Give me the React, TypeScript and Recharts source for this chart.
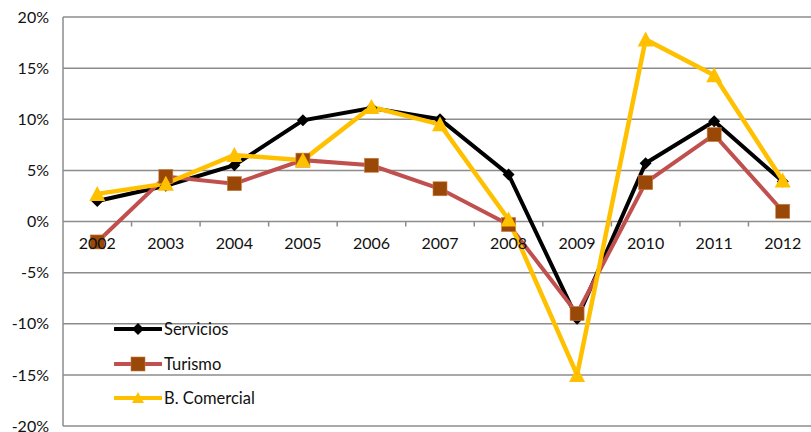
import { LineChart, Line, XAxis, YAxis, CartesianGrid } from "recharts";

const years = ["2002", "2003", "2004", "2005", "2006", "2007", "2008", "2009", "2010", "2011", "2012"];
const servicios = [2.0, 3.5, 5.5, 9.9, 11.1, 10.0, 4.6, -9.5, 5.7, 9.8, 3.9];
const turismo = [-2.0, 4.4, 3.7, 6.0, 5.5, 3.2, -0.3, -9.0, 3.8, 8.5, 1.0];
const comercial = [2.7, 3.7, 6.5, 6.0, 11.2, 9.5, 0.2, -15.0, 17.8, 14.3, 4.0];
const yTicks = [-20, -15, -10, -5, 0, 5, 10, 15, 20];

const data = years.map((year, i) => ({
    year,
    servicios: servicios[i],
    turismo: turismo[i],
    comercial: comercial[i],
}));

const W = 819;
const H = 432;
const TOP = 17;
const BOTTOM = 5;
const X_H = 1;
const LEFT = 63;
const RIGHT = 2;
const PLOT_H = H - TOP - BOTTOM - X_H;
const PLOT_W = W - LEFT - RIGHT;
const ZERO_Y = TOP + (PLOT_H * 20) / 40;
const BAND = PLOT_W / years.length;
const FONT = "Lato, 'Open Sans', sans-serif";

const Diamond = ({ cx, cy }: any) => (
    <polygon points={`${cx},${cy - 6} ${cx + 6},${cy} ${cx},${cy + 6} ${cx - 6},${cy}`} fill="#000" />
);
const Square = ({ cx, cy }: any) => (
    <rect x={cx - 7} y={cy - 7} width={14} height={14} fill="#9A4808" stroke="#C97B3E" strokeWidth={0.6} />
);
const Triangle = ({ cx, cy }: any) => (
    <polygon points={`${cx},${cy - 8} ${cx + 8},${cy + 7} ${cx - 8},${cy + 7}`} fill="#FFC000" />
);

const renderXTick = ({ x, payload }: any) => (
    <g>
        <line x1={x + BAND / 2} x2={x + BAND / 2} y1={ZERO_Y} y2={ZERO_Y + 5} stroke="#8c8c8c" strokeWidth={1.5} />
        <text x={x} y={ZERO_Y + 27} textAnchor="middle" fontSize={16} fontFamily={FONT} fill="#111">
            {payload.value}
        </text>
    </g>
);

const legendItems = [
    { name: "Servicios", color: "#000", mark: "diamond" },
    { name: "Turismo", color: "#C0504D", mark: "square" },
    { name: "B. Comercial", color: "#FFC000", mark: "triangle" },
];

function LegendIcon({ color, mark }: { color: string; mark: string }) {
    return (
        <svg width={48} height={16} style={{ display: "block" }}>
            <line x1={1} x2={47} y1={8} y2={8} stroke={color} strokeWidth={4} strokeLinecap="round" />
            {mark === "diamond" && <Diamond cx={24} cy={8} />}
            {mark === "square" && <Square cx={24} cy={8} />}
            {mark === "triangle" && <polygon points="24,2 30,13 18,13" fill="#FFC000" />}
        </svg>
    );
}

export default function App() {
    return (
        <div style={{ position: "fixed", left: 0, top: 0, width: 811, height: 432, overflow: "hidden", background: "#fff" }}>
            <LineChart width={W} height={H} data={data} margin={{ top: TOP, right: RIGHT, bottom: BOTTOM, left: 8 }}>
                <CartesianGrid vertical={false} stroke="#8c8c8c" strokeWidth={1.5} />
                <XAxis
                    dataKey="year"
                    scale="band"
                    height={X_H}
                    axisLine={false}
                    tickLine={false}
                    tick={renderXTick}
                    interval={0}
                />
                <YAxis
                    width={55}
                    domain={[-20, 20]}
                    ticks={yTicks}
                    interval={0}
                    tickFormatter={(v) => `${v}%`}
                    axisLine={{ stroke: "#8c8c8c", strokeWidth: 1.5 }}
                    tickLine={false}
                    tickMargin={8}
                    tick={{ fontSize: 16, fontFamily: FONT, fill: "#111" }}
                />
                <Line dataKey="servicios" stroke="#000" strokeWidth={4} dot={<Diamond />} activeDot={false} isAnimationActive={false} />
                <Line dataKey="turismo" stroke="#C0504D" strokeWidth={4} dot={<Square />} activeDot={false} isAnimationActive={false} />
                <Line dataKey="comercial" stroke="#FFC000" strokeWidth={4.5} dot={<Triangle />} activeDot={false} isAnimationActive={false} />
            </LineChart>
            <div style={{ position: "absolute", left: 114, top: 312, fontFamily: FONT, fontSize: 16.5, color: "#111" }}>
                {legendItems.map((it) => (
                    <div key={it.name} style={{ display: "flex", alignItems: "center", height: 34.5 }}>
                        <LegendIcon color={it.color} mark={it.mark} />
                        <span style={{ marginLeft: 2 }}>{it.name}</span>
                    </div>
                ))}
            </div>
        </div>
    );
}
